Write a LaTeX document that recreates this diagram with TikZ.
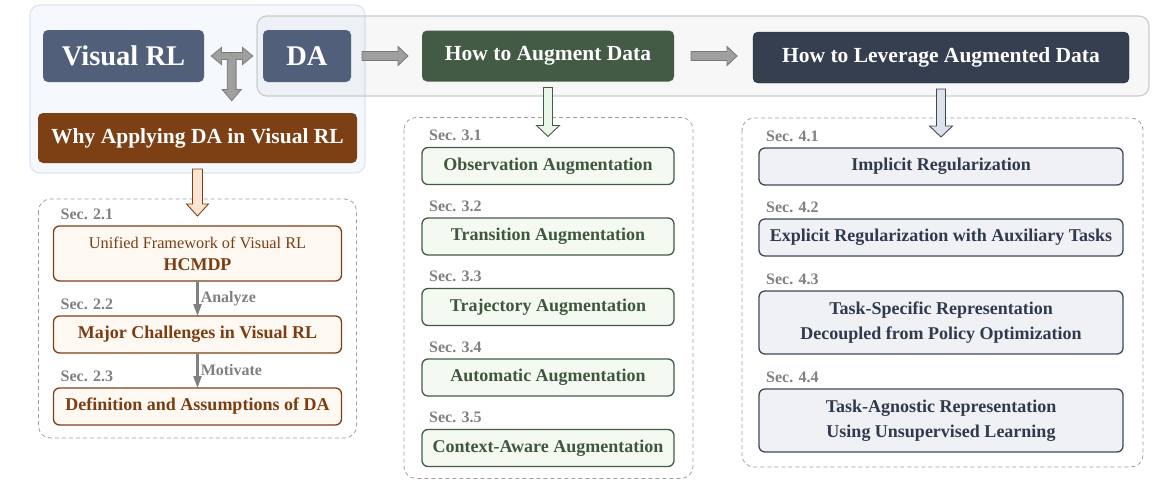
\documentclass[tikz,border=0pt]{standalone}
\usepackage{fontspec}
\setmainfont{Liberation Serif}
\usepackage{xcolor}
\definecolor{vslate}{HTML}{515F7B}
\definecolor{vbrown}{HTML}{7D3F14}
\definecolor{vbrowntx}{HTML}{7A3E13}
\definecolor{vbrownbg}{HTML}{FEF8F3}
\definecolor{vpeach}{HTML}{FCE4D2}
\definecolor{vgreen}{HTML}{435B45}
\definecolor{vgreentx}{HTML}{3F573F}
\definecolor{vgreenbg}{HTML}{F4F9F1}
\definecolor{vmint}{HTML}{E9F5E6}
\definecolor{vnavy}{HTML}{363F50}
\definecolor{vnavyln}{HTML}{3F4859}
\definecolor{vnavytx}{HTML}{2F3A4D}
\definecolor{vnavybg}{HTML}{EFF1F5}
\definecolor{vsteel}{HTML}{DCE1EA}
\definecolor{vgray}{HTML}{808080}
\definecolor{vpanel}{HTML}{F5F8FD}
\definecolor{vpanelln}{HTML}{DCE5F3}
\usepackage{tikz}
\usetikzlibrary{arrows.meta,positioning,calc,backgrounds}
% block arrow: [style]{from}{to}{half shaft}{half head}{head length}
\newcommand{\fatarrow}[6][]{%
  \path[#1] let \p1=(#2), \p2=(#3),
    \n1={atan2(\y2-\y1,\x2-\x1)}, \n2={veclen(\x2-\x1,\y2-\y1)} in
    [shift={(\p1)}, rotate=\n1]
    (0pt,{-#4*1pt}) -- ({\n2*1pt-#6*1pt},{-#4*1pt}) -- ({\n2*1pt-#6*1pt},{-#5*1pt})
    -- ({\n2*1pt},0pt) -- ({\n2*1pt-#6*1pt},{#5*1pt}) -- ({\n2*1pt-#6*1pt},{#4*1pt})
    -- (0pt,{#4*1pt}) -- cycle;}

\begin{document}
\begin{tikzpicture}[x=1pt,y=-1pt,
  topbox/.style={rectangle,rounded corners=5pt,text=white,inner sep=0pt,outer sep=0pt,
                 font=\bfseries\fontsize{21.5}{24}\selectfont},
  bigtxt/.style={font=\bfseries\fontsize{28.5}{30}\selectfont},
  secbox/.style={rectangle,rounded corners=6pt,line width=1.3pt,inner sep=0pt,outer sep=0pt,
                 align=center,minimum height=37pt,font=\bfseries\fontsize{18}{25}\selectfont},
  redbox/.style={secbox,draw=vbrown,fill=vbrownbg,text=vbrowntx,minimum width=288pt},
  grnbox/.style={secbox,draw=vgreen,fill=vgreenbg,text=vgreentx,minimum width=252pt},
  navbox/.style={secbox,draw=vnavyln,fill=vnavybg,text=vnavytx,minimum width=364pt},
  seclab/.style={anchor=base west,inner sep=0pt,text=vgray,
                 font=\bfseries\fontsize{16}{18}\selectfont},
  group/.style={draw=gray!75,dash pattern=on 4pt off 3pt,rounded corners=12pt,line width=0.8pt},
  flow/.style={-{Triangle[length=12pt,width=8pt]},line width=2.5pt,draw=vgray},
  verb/.style={right,inner sep=2pt,text=vgray,font=\bfseries\fontsize{16}{18}\selectfont},
  grayarr/.style={fill=gray!75,draw=gray!95!black,line width=0.9pt},
  node distance=33.5pt]
\useasboundingbox (0,0) rectangle (1164,490);

% top row
\node[topbox,bigtxt,fill=vslate,minimum width=161pt,minimum height=52pt] (vrl) at (123.5,56) {Visual RL};
\node[topbox,bigtxt,fill=vslate,minimum width=88pt,minimum height=52pt,right=59pt of vrl] (da) {DA};
\node[topbox,fill=vbrown,minimum width=319pt,minimum height=50pt] (why) at (197.5,138) {Why Applying DA in Visual RL};
\node[topbox,fill=vgreen,minimum width=252pt,minimum height=51pt,right=71pt of da] (how) {How to Augment Data};
\node[topbox,fill=vnavy,draw=vnavy!70!black,minimum width=376pt,minimum height=51pt,right=79pt of how,
      yshift=-1.5pt] (lev) {How to Leverage Augmented Data};

% panels
\begin{scope}[on background layer]
\draw[fill=vpanel,draw=vpanelln,line width=1.2pt,rounded corners=10pt]
  ($(vrl.north west)+(-13,-25)$) rectangle ($(why.south east)+(8,10)$);
\draw[fill=black,fill opacity=0.03,draw=gray!40,line width=1.2pt,rounded corners=10pt]
  ($(da.north west)+(-6,-14)$) rectangle ($(lev.south east)+(20,13)$);
\end{scope}

% Sec. 2
\node[redbox,minimum height=55pt,font=\fontsize{16.3}{22}\selectfont,below=63pt of why] (b21)
  {Unified Framework of Visual RL\\{\bfseries\fontsize{18}{22}\selectfont HCMDP}};
\node[redbox,below=35pt of b21] (b22) {Major Challenges in Visual RL};
\node[redbox,below=35pt of b22] (b23) {Definition and Assumptions of DA};
\node[seclab] (s21) at ([xshift=7pt,yshift=7pt]b21.north west) {Sec. 2.1};
\node[seclab] (s22) at ([xshift=7pt,yshift=7pt]b22.north west) {Sec. 2.2};
\node[seclab] (s23) at ([xshift=7pt,yshift=7pt]b23.north west) {Sec. 2.3};
\draw[flow] (b21) -- node[verb] (an) {Analyze} (b22);
\draw[flow] (b22) -- node[verb] (mo) {Motivate} (b23);

% Sec. 3
\node[grnbox,below=66pt of how] (b31) {Observation Augmentation};
\node[grnbox,below=of b31] (b32) {Transition Augmentation};
\node[grnbox,below=of b32] (b33) {Trajectory Augmentation};
\node[grnbox,below=of b33] (b34) {Automatic Augmentation};
\node[grnbox,below=of b34] (b35) {Context-Aware Augmentation};
\node[seclab] (s31) at ([xshift=7pt,yshift=7pt]b31.north west) {Sec. 3.1};
\node[seclab] (s32) at ([xshift=7pt,yshift=7pt]b32.north west) {Sec. 3.2};
\node[seclab] (s33) at ([xshift=7pt,yshift=7pt]b33.north west) {Sec. 3.3};
\node[seclab] (s34) at ([xshift=7pt,yshift=7pt]b34.north west) {Sec. 3.4};
\node[seclab] (s35) at ([xshift=7pt,yshift=7pt]b35.north west) {Sec. 3.5};

% Sec. 4
\node[navbox,below=65pt of lev] (b41) {Implicit Regularization};
\node[navbox,below=34pt of b41] (b42) {Explicit Regularization with Auxiliary Tasks};
\node[navbox,minimum height=63pt,below=35pt of b42] (b43) {Task-Specific Representation\\Decoupled from Policy Optimization};
\node[navbox,minimum height=63pt,below=35pt of b43] (b44) {Task-Agnostic Representation\\Using Unsupervised Learning};
\node[seclab] (s41) at ([xshift=7pt,yshift=7pt]b41.north west) {Sec. 4.1};
\node[seclab] (s42) at ([xshift=7pt,yshift=7pt]b42.north west) {Sec. 4.2};
\node[seclab] (s43) at ([xshift=7pt,yshift=7pt]b43.north west) {Sec. 4.3};
\node[seclab] (s44) at ([xshift=7pt,yshift=7pt]b44.north west) {Sec. 4.4};

% dashed groups
\draw[group] ($(b21.north west)+(-15,-27)$) rectangle ($(b23.south east)+(15,13)$);
\draw[group] ($(b31.north west)+(-18,-30)$) rectangle ($(b35.south east)+(19,12)$);
\draw[group] ($(b41.north west)+(-17,-30)$) rectangle ($(b44.south east)+(20,15)$);

% block arrows
\coordinate (tj) at ($(vrl.east)!0.47!(da.west)$);
\fatarrow[grayarr,line width=1.8pt]{tj}{[xshift=8pt]vrl.east}{3}{7.5}{9}
\fatarrow[grayarr,line width=1.8pt]{tj}{[xshift=-11pt]da.west}{3}{7.5}{9}
\fatarrow[grayarr,line width=1.8pt]{tj}{[yshift=13pt]why.north -| tj}{4}{8.5}{10}
\fatarrow[fill=gray!75]{tj}{[xshift=8pt]vrl.east}{3}{7.5}{9}
\fatarrow[fill=gray!75]{tj}{[xshift=-11pt]da.west}{3}{7.5}{9}
\fatarrow[fill=gray!75]{tj}{[yshift=13pt]why.north -| tj}{4}{8.5}{10}
\fatarrow[grayarr]{[xshift=11pt]da.east}{[xshift=-14pt]how.west}{4.5}{9.5}{10}
\fatarrow[grayarr]{[xshift=17pt]how.east}{[xshift=-16pt]lev.west |- how.east}{4.5}{9.5}{10}
\fatarrow[fill=vpeach,draw=vbrown,line width=0.9pt]{[yshift=-6pt]why.south}{[yshift=10pt]b21.north}{5}{11}{12}
\fatarrow[fill=vmint,draw=vgreen,line width=0.9pt]{[yshift=-6pt]how.south}{[yshift=11pt]b31.north}{4.5}{11.5}{11}
\fatarrow[fill=vsteel,draw=vnavyln,line width=0.9pt]{[yshift=-6pt]lev.south}{[yshift=11pt]b41.north}{4.5}{11.5}{11}
\end{tikzpicture}
\end{document}
